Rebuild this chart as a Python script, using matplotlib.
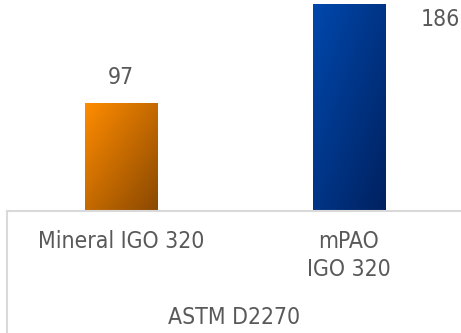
import matplotlib.pyplot as plt
import numpy as np
from matplotlib.colors import LinearSegmentedColormap
from matplotlib.lines import Line2D

categories = ["Mineral IGO 320", "mPAO\nIGO 320"]
values = [97, 186]
group_label = "ASTM D2270"

# gradient end colours per bar (top-left -> bottom-right)
gradients = [("#ff8c00", "#8a4800"), ("#0048ad", "#00215f")]
# label offsets in pixels relative to the bar top
label_offsets = [(0, 26), (91, -15)]

text_color = "#595959"
plt.rcParams["font.family"] = ["DejaVu Sans"]
plt.rcParams["font.stretch"] = "condensed"
fs = 16.5

fig = plt.figure(figsize=(4.61, 3.33), dpi=100)
ax = fig.add_axes([7 / 461, 122 / 333, 456 / 461, 211 / 333])
ax.set_xlim(-0.5, 1.5)
ax.set_ylim(0, 190)

width = 0.316
x = np.arange(len(categories))
bars = ax.bar(x, values, width=width, color="none")

# diagonal gradient fill for each bar
yy, xx = np.mgrid[0:1:200j, 0:1:200j]
grad = (xx + yy) / 2
for bar, (c0, c1) in zip(bars, gradients):
    cmap = LinearSegmentedColormap.from_list("g", [c0, c1])
    x0, y0 = bar.get_x(), bar.get_y()
    im = ax.imshow(grad, cmap=cmap, aspect="auto", origin="upper",
                   extent=[x0, x0 + bar.get_width(), y0, y0 + bar.get_height()],
                   zorder=2)
    im.set_clip_path(bar)

for xi, v, (dx, dy) in zip(x, values, label_offsets):
    ax.annotate(str(v), (xi, v), xytext=(dx, dy), textcoords="offset pixels",
                ha="center", va="center", fontsize=fs, color=text_color,
                annotation_clip=False)

for s in ["top", "right", "left"]:
    ax.spines[s].set_visible(False)
ax.spines["bottom"].set_color("#d9d9d9")
ax.spines["bottom"].set_linewidth(1.5)
ax.set_yticks([])
ax.set_xticks(x)
ax.set_xticklabels(categories, fontsize=fs, color=text_color, linespacing=1.25)
ax.tick_params(axis="x", length=0, pad=14)

# grouped category label and its left divider
fig.text(234 / 461, 16 / 333, group_label, ha="center", va="center",
         fontsize=fs, color=text_color)
fig.add_artist(Line2D([7 / 461, 7 / 461], [0, 122 / 333], color="#d9d9d9",
                      linewidth=1.5, transform=fig.transFigure))

fig.savefig("out.png", dpi=100)
